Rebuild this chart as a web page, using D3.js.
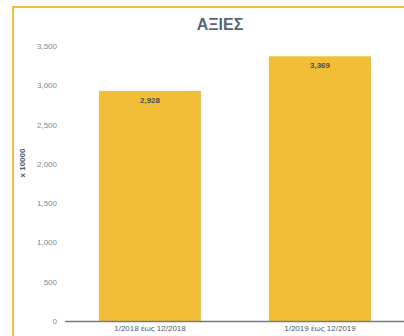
<!DOCTYPE html>
<html>
<head>
<meta charset="utf-8">
<script src="https://cdn.jsdelivr.net/npm/d3@7"></script>
<style>
  body { margin: 0; background: #fff; }
  svg { display: block; font-family: "Liberation Sans", Arial, sans-serif; }
</style>
</head>
<body>
<div id="chart"></div>
<script>
var categories = ['1/2018 έως 12/2018', '1/2019 έως 12/2019'];
var values = [2928, 3369];
var yTicks = [0, 500, 1000, 1500, 2000, 2500, 3000, 3500];

var width = 404, height = 336;
var svg = d3.select('#chart').append('svg').attr('width', width).attr('height', height);

// yellow frame (runs off the right/bottom edge)
svg.append('rect')
  .attr('x', 13).attr('y', 7)
  .attr('width', 420).attr('height', 360)
  .attr('fill', 'none')
  .attr('stroke', '#f2c037')
  .attr('stroke-width', 2);

svg.append('text')
  .attr('x', 220).attr('y', 30)
  .attr('text-anchor', 'middle')
  .style('font-size', '16px')
  .style('font-weight', 'bold')
  .style('fill', '#546778')
  .text('ΑΞΙΕΣ');

var x = d3.scaleBand().domain(categories).range([65, 405])
  .paddingInner(0.4).paddingOuter(0.2);
var y = d3.scaleLinear().domain([0, 3500]).range([321, 46]);

// y tick labels
svg.selectAll('.ytick')
  .data(yTicks)
  .enter()
  .append('text')
  .attr('class', 'ytick')
  .attr('x', 57)
  .attr('y', function(d) { return y(d) + 3; })
  .attr('text-anchor', 'end')
  .style('font-size', '8px')
  .style('fill', '#7b8794')
  .text(d3.format(','));

svg.append('text')
  .attr('transform', 'translate(25,163) rotate(-90)')
  .attr('text-anchor', 'middle')
  .style('font-size', '8px')
  .style('font-weight', 'bold')
  .style('fill', '#4a5a6a')
  .text('x 10000');

// bars
svg.selectAll('.bar')
  .data(values)
  .enter()
  .append('rect')
  .attr('class', 'bar')
  .attr('x', function(d, i) { return x(categories[i]); })
  .attr('y', function(d) { return y(d); })
  .attr('width', x.bandwidth())
  .attr('height', function(d) { return y(0) - y(d); })
  .attr('fill', '#f2be38');

svg.selectAll('.val')
  .data(values)
  .enter()
  .append('text')
  .attr('class', 'val')
  .attr('x', function(d, i) { return x(categories[i]) + x.bandwidth() / 2; })
  .attr('y', function(d) { return y(d) + 12; })
  .attr('text-anchor', 'middle')
  .style('font-size', '8px')
  .style('font-weight', 'bold')
  .style('fill', '#4d4d4d')
  .text(d3.format(','));

// x axis
svg.append('line')
  .attr('x1', 65).attr('x2', 405)
  .attr('y1', y(0) + 0.5).attr('y2', y(0) + 0.5)
  .attr('stroke', '#6c7d8c')
  .attr('stroke-width', 1.5);

svg.selectAll('.xlab')
  .data(categories)
  .enter()
  .append('text')
  .attr('class', 'xlab')
  .attr('x', function(d) { return x(d) + x.bandwidth() / 2; })
  .attr('y', 331)
  .attr('text-anchor', 'middle')
  .style('font-size', '8px')
  .style('fill', '#4a5a6a')
  .text(function(d) { return d; });
</script>
</body>
</html>
